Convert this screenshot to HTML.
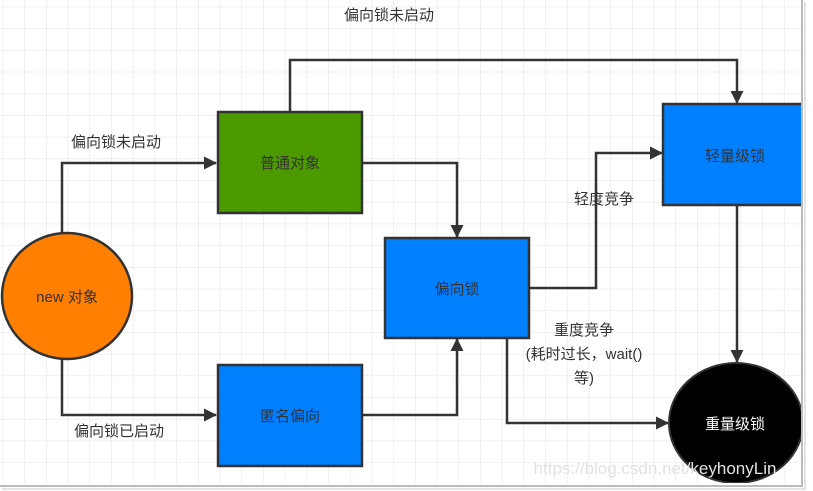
<!DOCTYPE html>
<html><head><meta charset="utf-8"><style>
html,body{margin:0;padding:0;background:#fff;}
svg{display:block;}
text{font-family:"Liberation Sans","Noto Sans CJK SC",sans-serif;font-size:15px;fill:#333;}
</style></head><body>
<svg width="813" height="491" viewBox="0 0 813 491" xmlns="http://www.w3.org/2000/svg">
<defs>
<pattern id="g" x="2.7" y="6.6" width="21.7" height="21.7" patternUnits="userSpaceOnUse">
<path d="M0 0H21.7M0 0V21.7" stroke="#e6e6e6" stroke-width="1.2" fill="none"/>
</pattern>
<marker id="a" markerWidth="13" markerHeight="13" refX="12" refY="6.5" orient="auto" markerUnits="userSpaceOnUse">
<path d="M0 0L13 6.5L0 13Z" fill="#333"/>
</marker>
<clipPath id="c"><rect x="0" y="0" width="802" height="483"/></clipPath>
</defs>
<rect x="0" y="0" width="813" height="491" fill="#fff"/>
<g clip-path="url(#c)">
<rect x="0" y="0" width="802" height="483" fill="url(#g)"/>
<g stroke="#333" stroke-width="2.5" fill="none">
<path d="M62 233V163H216" marker-end="url(#a)"/>
<path d="M62 360V415H216" marker-end="url(#a)"/>
<path d="M290 112V60H737V103" marker-end="url(#a)"/>
<path d="M362 163H457V237" marker-end="url(#a)"/>
<path d="M362 415H457V339" marker-end="url(#a)"/>
<path d="M529 288H596V153H662" marker-end="url(#a)"/>
<path d="M507 338V423H668" marker-end="url(#a)"/>
<path d="M737 205V362" marker-end="url(#a)"/>
</g>
<ellipse cx="67" cy="296" rx="65" ry="63" fill="#ff8000" stroke="#333" stroke-width="2.5"/>
<rect x="218" y="112" width="144" height="101" fill="#4d9900" stroke="#333" stroke-width="2.5"/>
<rect x="385" y="238" width="144" height="100" fill="#007fff" stroke="#333" stroke-width="2.5"/>
<rect x="218" y="365" width="144" height="101" fill="#007fff" stroke="#333" stroke-width="2.5"/>
<rect x="663" y="104" width="145" height="101" fill="#007fff" stroke="#333" stroke-width="2.5"/>
<ellipse cx="736" cy="423" rx="67" ry="60" fill="#000" stroke="#333" stroke-width="2"/>
<text x="67" y="302" text-anchor="middle">new 对象</text>
<text x="290" y="168" text-anchor="middle">普通对象</text>
<text x="457" y="294" text-anchor="middle">偏向锁</text>
<text x="290" y="421" text-anchor="middle">匿名偏向</text>
<text x="735" y="161" text-anchor="middle">轻量级锁</text>
<text x="735" y="429" text-anchor="middle" style="fill:#fff">重量级锁</text>
<text x="389" y="20" text-anchor="middle">偏向锁未启动</text>
<text x="116" y="147" text-anchor="middle">偏向锁未启动</text>
<text x="119" y="436" text-anchor="middle">偏向锁已启动</text>
<text x="604" y="204" text-anchor="middle">轻度竞争</text>
<text x="584" y="335" text-anchor="middle">重度竞争</text>
<text x="584" y="359" text-anchor="middle">(耗时过长，wait()</text>
<text x="584" y="383" text-anchor="middle">等)</text>
<text x="655" y="474" text-anchor="middle" style="fill:#e2e2e2;font-size:17px">https://blog.csdn.net/keyhonyLin</text>
</g>
<path d="M802 0V486H0" stroke="#bbb" stroke-width="2" fill="none"/>
<path d="M805 2V489H2" stroke="#e4e4e4" stroke-width="2" fill="none"/>
</svg>
</body></html>
